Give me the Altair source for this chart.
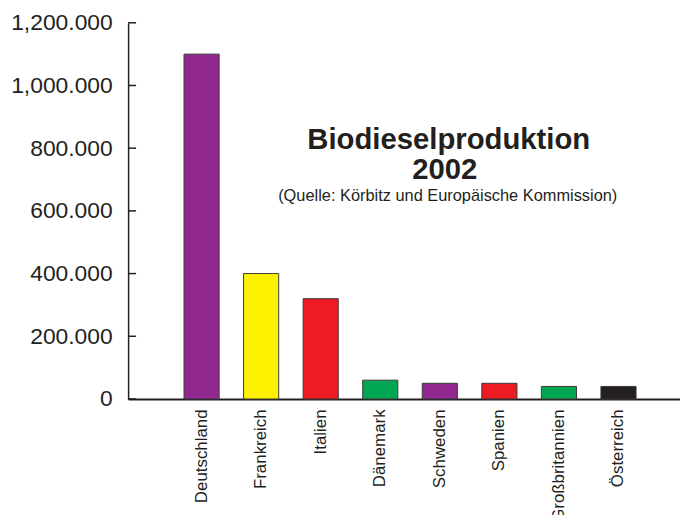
import altair as alt
import pandas as pd

countries = ["Deutschland", "Frankreich", "Italien", "Dänemark", "Schweden",
             "Spanien", "Großbritannien", "Österreich"]
production = [1100000, 400000, 320000, 60000, 50000, 50000, 40000, 40000]
bar_colors = ["#92278F", "#FFF200", "#ED1C24", "#00A651", "#92278F",
              "#ED1C24", "#00A651", "#231F20"]
y_ticks = [0, 200000, 400000, 600000, 800000, 1000000, 1200000]
title_lines = ["Biodieselproduktion", "2002"]
subtitle_text = "(Quelle: Körbitz und Europäische Kommission)"

FONT = "Liberation Sans"
INK = "#231F20"

df = pd.DataFrame({"land": countries, "menge": production})
ticks_df = pd.DataFrame({"menge": y_ticks})

label_expr = (
    "datum.value == 0 ? '0' : (datum.value >= 1000000 ? "
    "floor(datum.value / 1000000) + ',' + format((datum.value % 1000000) / 1000, '03d') "
    ": format(datum.value / 1000, 'd')) + '.000'"
)

y_axis = alt.Axis(
    title=None, values=y_ticks, ticks=False, grid=False, labelFont=FONT,
    labelFontSize=23, labelColor=INK, labelPadding=16, labelExpr=label_expr,
    domainColor=INK, domainWidth=1.5,
)

x_enc = alt.X(
    "land:N",
    sort=countries,
    scale=alt.Scale(paddingInner=0.41, paddingOuter=0.838, align=0.56),
    axis=alt.Axis(
        title=None, ticks=False, labelAngle=270, labelFont=FONT, labelFontSize=17,
        labelColor=INK, labelPadding=10, domainColor=INK, domainWidth=2,
        labelOverlap=False, labelBound=False, labelLimit=300,
    ),
)
y_enc = alt.Y("menge:Q", scale=alt.Scale(domain=[0, 1200000], nice=False), axis=y_axis)

bars = alt.Chart(df).mark_bar(stroke="#3a3a3a", strokeWidth=1).encode(
    x=x_enc,
    y=y_enc,
    color=alt.Color("land:N", scale=alt.Scale(domain=countries, range=bar_colors), legend=None),
)

tick_rules = alt.Chart(ticks_df).mark_rule(color=INK, strokeWidth=1.5).encode(
    y=alt.Y("menge:Q", axis=y_axis),
    x=alt.value(0),
    x2=alt.value(8),
)

t1 = alt.Chart(pd.DataFrame({"t": [title_lines[0]]})).mark_text(
    font=FONT, fontSize=29.5, fontWeight="bold", color=INK, align="center", baseline="alphabetic"
).encode(text="t:N", x=alt.value(323), y=alt.value(127))

t2 = alt.Chart(pd.DataFrame({"t": [title_lines[1]]})).mark_text(
    font=FONT, fontSize=29.5, fontWeight="bold", color=INK, align="center", baseline="alphabetic"
).encode(text="t:N", x=alt.value(319), y=alt.value(157))

t3 = alt.Chart(pd.DataFrame({"t": [subtitle_text]})).mark_text(
    font=FONT, fontSize=16.5, color=INK, align="center", baseline="alphabetic"
).encode(text="t:N", x=alt.value(322), y=alt.value(180))

chart = alt.layer(bars, tick_rules, t1, t2, t3).properties(
    width=556,
    height=379,
    background="white",
    autosize=alt.AutoSizeParams(type="none"),
    padding={"left": 121, "top": 13, "right": 0, "bottom": 115},
).configure_view(stroke=None)

chart.save("out.html", embed_options={"renderer": "svg", "actions": False})
